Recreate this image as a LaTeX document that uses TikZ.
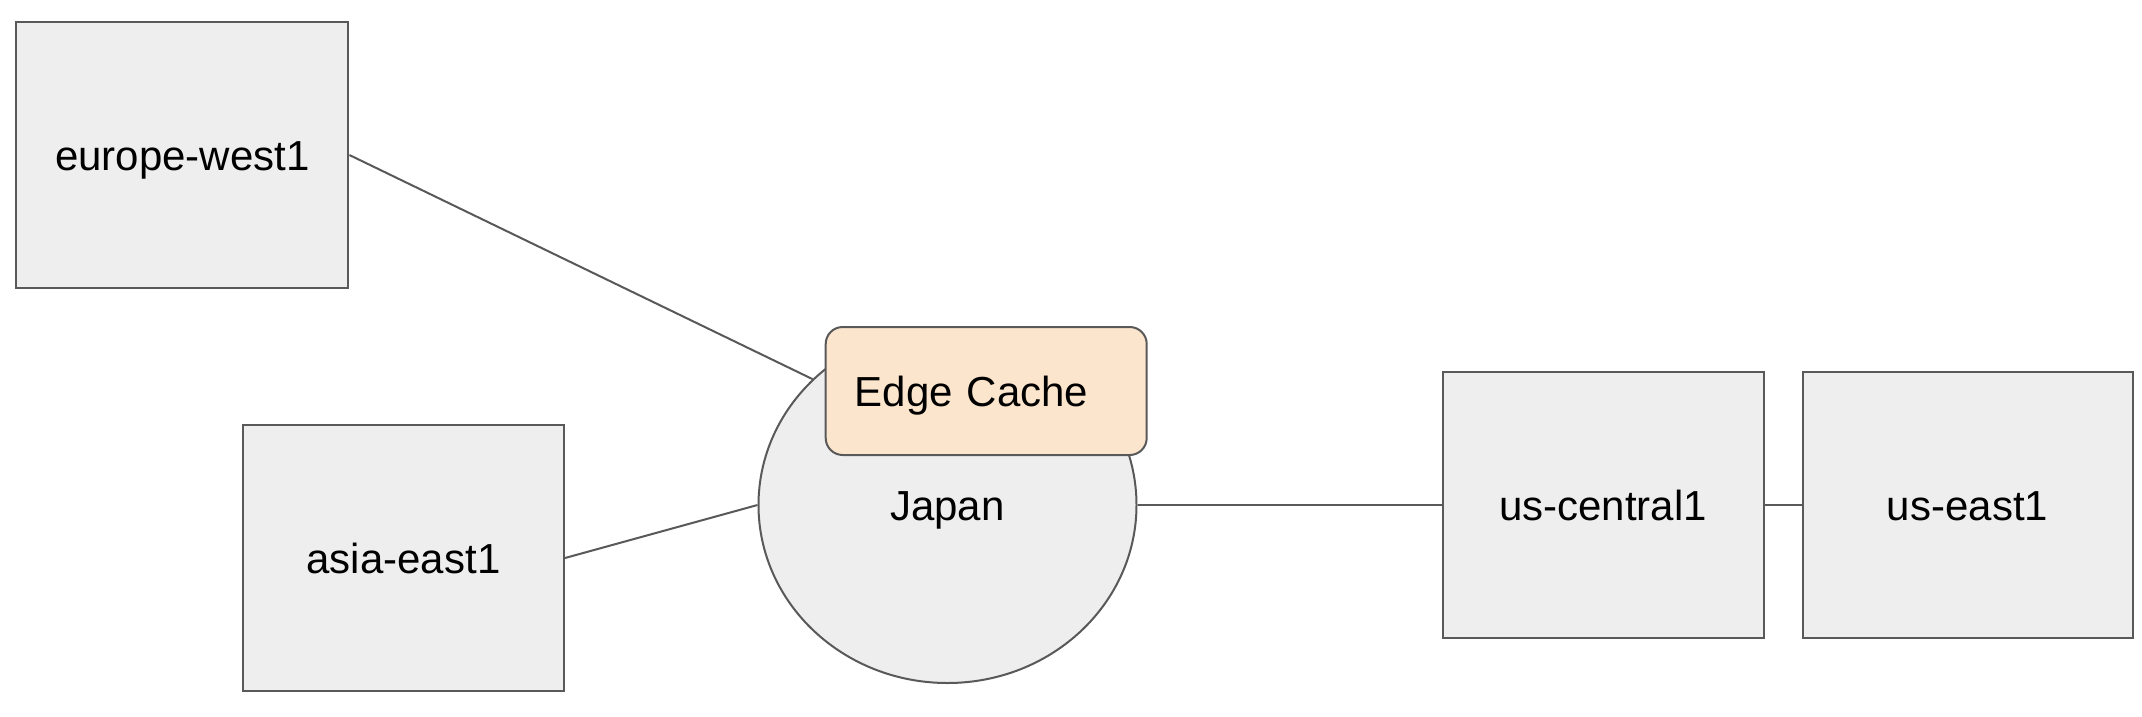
\documentclass[tikz,border=0pt]{standalone}
\usepackage{fontspec}
\setmainfont{Liberation Sans}
\usetikzlibrary{backgrounds,positioning,shapes.geometric}
\definecolor{boxfill}{HTML}{EEEEEE}
\definecolor{boxline}{HTML}{595959}
\definecolor{cachefill}{HTML}{FCE5CD}

\begin{document}
\begin{tikzpicture}[x=1pt, y=-1pt, every node/.style={font=\fontsize{42}{50}\selectfont, text height=30pt, text depth=0pt},
    region/.style={rectangle, draw=boxline, fill=boxfill, line width=2pt, inner sep=0pt, minimum width=321pt, minimum height=266pt},
    link/.style={draw=boxline, line width=2pt}]
    % white background
    \useasboundingbox (0,0) rectangle (2142,716);
    \begin{scope}[on background layer]
        \fill [white] (0,0) rectangle (2142,716);
    \end{scope}
    % nodes
    \node (europe) [region, minimum width=332pt] at (182.4,155) {europe-west1};
    \node (asia) [region] at (403.5,558) {asia-east1};
    \node (japan) [ellipse, draw=boxline, fill=boxfill, line width=2pt, inner sep=0pt, minimum width=378pt, minimum height=356pt] at (947.5,505) {Japan};
    \node (cache) [rectangle, rounded corners=17pt, draw=boxline, fill=cachefill, line width=2pt, inner xsep=29pt, inner ysep=0pt, text width=263pt, align=left, minimum height=128pt] at (986.2,391) {Edge Cache};
    \node (uscentral) [region] at (1603,505) {us-central1};
    \node (useast) [region, minimum width=330pt, right=37pt of uscentral] {us-east1};
    % links
    \begin{scope}[on background layer]
        \draw[link] (europe.east) -- (japan.137);
        \draw[link] (asia.east) -- (japan.west);
        \draw[link] (japan.east) -- (uscentral.west);
        \draw[link] (uscentral.east) -- (useast.west);
    \end{scope}
\end{tikzpicture}
\end{document}
